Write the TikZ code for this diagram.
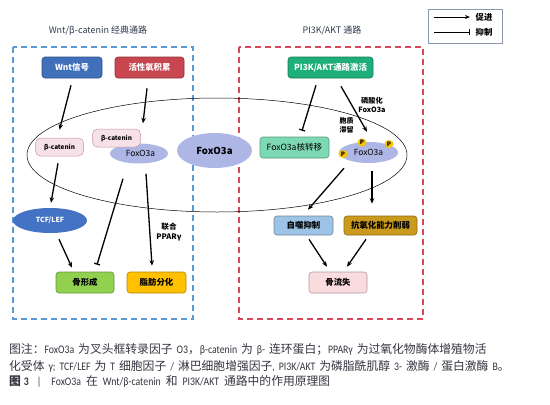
\documentclass[tikz,border=0pt]{standalone}
\usepackage{fontspec}
\setmainfont{Noto Sans CJK SC}
\newfontfamily\capfont[FakeStretch=0.85,WordSpace=1.8]{Carlito}
\newfontfamily\cjk[Scale=1.026]{Noto Sans CJK SC}
\usetikzlibrary{shapes.geometric,arrows.meta,calc}
\definecolor{wntblue}{HTML}{4170BA}
\definecolor{rosred}{HTML}{C8464F}
\definecolor{pigreen}{HTML}{1DAE7A}
\definecolor{bcpink}{HTML}{F6E1E9}
\definecolor{bcedge}{HTML}{C596A8}
\definecolor{foxlav}{HTML}{AEB6E6}
\definecolor{nucmint}{HTML}{7DD9B4}
\definecolor{pyellow}{HTML}{F5C400}
\definecolor{tcfblue}{HTML}{4472C4}
\definecolor{bonegreen}{HTML}{92D050}
\definecolor{fatorange}{HTML}{FFC000}
\definecolor{autoblue}{HTML}{9DC3E6}
\definecolor{antigold}{HTML}{C99A1E}
\definecolor{losspink}{HTML}{FADBDE}
\definecolor{dashblue}{HTML}{5B9BD5}
\definecolor{dashred}{HTML}{D9475A}
\definecolor{titlecol}{HTML}{2E3A50}
\definecolor{capcol}{HTML}{353540}
\definecolor{legedge}{HTML}{8C96AE}
\begin{document}
\begin{tikzpicture}[x=1pt,y=-1pt,
  rbox/.style={draw=#1!70!black, rounded corners=3pt, inner sep=0pt, line width=0.6pt,
    font=\bfseries\fontsize{8.4}{10}\selectfont},
  rbox/.default=gray,
  bcbox/.style={draw=bcedge, fill=bcpink, rounded corners=5pt, inner sep=0pt, line width=0.5pt,
    minimum width=48pt, minimum height=18pt, font=\bfseries\fontsize{6.4}{8}\selectfont},
  oval/.style={ellipse, fill=foxlav, inner sep=0pt},
  pdot/.style={ellipse, fill=pyellow, inner sep=0pt, minimum width=9pt, minimum height=8pt,
    font=\bfseries\fontsize{6}{6}\selectfont},
  pro/.style={-{Stealth[length=5.5pt,width=4.5pt]}, line width=1.3pt},
  inh/.style={-{Bar[width=6pt,line width=1.3pt]}, line width=1.3pt},
  lbl/.style={font=\bfseries\fontsize{7.2}{8.6}\selectfont, align=center, inner sep=0pt},
  ttl/.style={font=\fontsize{9}{11}\selectfont, text=titlecol, inner sep=0pt},
  captxt/.style={font=\capfont\fontsize{11.5}{13}\selectfont, text=capcol, anchor=west, inner sep=0pt}
]
\useasboundingbox (0,0) rectangle (550,405);

% titles
\node[ttl] (t1) at (98,31) {Wnt/β-catenin 经典通路};
\node[ttl] (t2) at (332,31) {PI3K/AKT 通路};

% legend
\node[draw=legedge, line width=0.8pt, minimum width=74pt, minimum height=34pt, inner sep=0pt] (leg) at (465,26) {};
\coordinate (la1) at (434,17); \coordinate (la2) at (470,17);
\coordinate (lb1) at (434,32); \coordinate (lb2) at (470,32);
\draw[-{Stealth[length=5pt,width=4pt]}, line width=1pt] (la1) -- (la2);
\draw[-{Bar[width=6pt,line width=1pt]}, line width=1pt] (lb1) -- (lb2);
\node[lbl, font=\bfseries\fontsize{8.4}{9}\selectfont] (lp) at (484,17) {促进};
\node[lbl, font=\bfseries\fontsize{8.4}{9}\selectfont] (li) at (484,32) {抑制};

% dashed frames
\draw[dashblue, line width=1.2pt, dash pattern=on 6pt off 4pt] (13,47) rectangle (193,319);
\draw[dashred, line width=1.2pt, dash pattern=on 6pt off 4pt] (239,47) rectangle (423,319);

% big cell ellipse
\draw[line width=0.5pt] (217,155) ellipse [x radius=190, y radius=57];

% top boxes
\node[rbox=wntblue, fill=wntblue, text=white, minimum width=60pt, minimum height=21pt] (wnt) at (72,67.5) {Wnt信号};
\node[rbox=rosred, fill=rosred, text=white, minimum width=69pt, minimum height=21pt] (ros) at (149.5,67.5) {活性氧积累};
\node[rbox=pigreen, fill=pigreen, text=white, minimum width=85pt, minimum height=21pt] (pi3k) at (330.5,67.5) {PI3K/AKT通路激活};

% left cell content
\node[bcbox] (bc1) at (59.5,147) {β-catenin};
\node[oval, minimum width=58pt, minimum height=20pt, font=\fontsize{8.4}{10}\selectfont] (fox1) at (139,153.5) {\hspace*{3pt}FoxO3a};
\node[bcbox] (bc2) at (116.5,138) {β-catenin};
\node[oval, minimum width=75pt, minimum height=35pt, font=\bfseries\fontsize{9.6}{11}\selectfont] (foxc) at (214.5,150.5) {FoxO3a};

% right cell content
\node[rbox=nucmint, fill=nucmint, minimum width=69pt, minimum height=21pt, font=\fontsize{8.6}{10}\selectfont] (nuc) at (294.5,147.5) {FoxO3a核转移};
\node[oval, minimum width=59pt, minimum height=21pt, font=\fontsize{8.4}{10}\selectfont] (foxp) at (368.5,152.5) {FoxO3a};
\node[pdot] (p1) at (362,142.5) {P};
\node[pdot] (p2) at (389,144) {P};
\node[pdot] (p3) at (343,154) {P};
\node[lbl, font=\bfseries\fontsize{7}{9}\selectfont] (retain) at (346.5,125.5) {胞质\\滞留};
\node[lbl, font=\bfseries\fontsize{7.2}{9}\selectfont] (phos) at (372,104.5) {磷酸化\\FoxO3a};

% lower left
\node[ellipse, fill=tcfblue, inner sep=0pt, minimum width=74pt, minimum height=25pt, text=white, font=\bfseries\fontsize{7}{8}\selectfont] (tcf) at (50,220.5) {TCF/LEF};
\node[rbox=bonegreen, fill=bonegreen, minimum width=58pt, minimum height=21pt] (bone) at (85,282.5) {骨形成};
\node[rbox=fatorange, fill=fatorange, minimum width=59pt, minimum height=21pt] (fat) at (156.5,282.5) {脂肪分化};
\node[lbl, font=\bfseries\fontsize{7.6}{9.6}\selectfont] (ppar) at (169,232) {联合\\PPARγ};

% lower right
\node[rbox=autoblue, fill=autoblue, minimum width=59pt, minimum height=19pt] (auto) at (303.5,225.5) {自噬抑制};
\node[rbox=antigold, fill=antigold, minimum width=73pt, minimum height=19pt] (anti) at (380.5,225.5) {抗氧化能力削弱};
\node[rbox=losspink, fill=losspink, minimum width=58pt, minimum height=21pt] (loss) at (338,282.5) {骨流失};

% connectors
\draw[pro] ($(wnt.south)+(-1,7)$) -- ($(bc1.north)+(0,-8)$);
\draw[pro] ($(ros.south)+(-2.5,10)$) -- ($(ros.south)+(-6.5,45)$);
\draw[pro] ($(bc1.south)+(-1.5,7)$) -- ($(tcf.north)+(1,-5)$);
\draw[pro] ($(tcf.south)+(9,6)$) -- ($(bone.north)+(-13,-4)$);
\draw[inh] ($(fox1.south)+(-16,15)$) -- ($(bone.north)+(12,-7)$);
\draw[pro] ($(fox1.south)+(7,10)$) -- ($(fat.north)+(-4.5,-6)$);
\draw[inh] ($(pi3k.south)+(-14.5,7)$) -- ($(nuc.north)+(7.5,-6)$);
\draw[pro] ($(pi3k.south)+(10.5,8)$) -- ($(foxp.north)+(-1.5,-10)$);
\draw[pro] ($(foxp.south)+(-24.5,5)$) -- ($(auto.north)+(4.5,-6)$);
\draw[pro] ($(foxp.south)+(3.5,8)$) -- ($(anti.north)+(-8.5,-12)$);
\draw[pro] ($(auto.south)+(5.5,4)$) -- ($(loss.north)+(-11,-5)$);
\draw[pro] ($(anti.south)+(-14.5,4)$) -- ($(loss.north)+(9,-5)$);

% caption
\node[captxt] (c1) at (9,350) {{\cjk 图注：}FoxO3a {\cjk 为叉头框转录因子} O3{\cjk ，}β-catenin {\cjk 为} β- {\cjk 连环蛋白；}PPARγ {\cjk 为过氧化物酶体增殖物活}};
\node[captxt] (c2) at (9,366) {{\cjk 化受体} γ; TCF/LEF {\cjk 为} T {\cjk 细胞因子} / {\cjk 淋巴细胞增强因子}, PI3K/AKT {\cjk 为磷脂酰肌醇} 3- {\cjk 激酶} / {\cjk 蛋白激酶} B{\cjk 。}};
\node[captxt] (c3) at (9,381.5) {{\cjk\bfseries 图}\hspace{3pt}\textbf{3}\hspace{8pt}|\hspace{10pt}FoxO3a\hspace{5pt}{\cjk 在}\hspace{5pt}Wnt/β-catenin\hspace{5pt}{\cjk 和}\hspace{5pt}PI3K/AKT\hspace{5pt}{\cjk 通路中的作用原理图}};
\end{tikzpicture}
\end{document}
